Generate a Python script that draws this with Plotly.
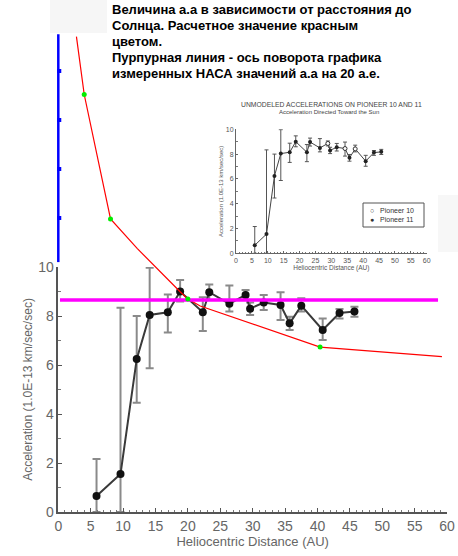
import plotly.graph_objects as go

# ─── Data ────────────────────────────────────────────────────────────────────
# Pioneer anomaly
dist    = [5.9, 9.6, 12.1, 14.1, 16.9, 18.8, 22.3, 23.3, 26.4, 28.9, 29.6, 31.7,
           34.3, 35.7, 37.5, 40.8, 43.4, 45.7]
acc     = [0.65, 1.55, 6.24, 8.04, 8.15, 9.0, 8.15, 8.97, 8.5, 8.86, 8.3, 8.55,
           8.45, 7.7, 8.42, 7.43, 8.12, 8.18]
err_hi  = [1.51, 6.79, 1.76, 1.93, 0.73, 0.47, 0.62, 0.32, 0.75, 0.2, 0.25, 0.31,
           0.52, 0.27, 0.3, 0.47, 0.17, 0.2]
err_lo  = [0.65, 1.55, 1.78, 2.17, 0.82, 0.41, 0.76, 0.32, 0.32, 0.2, 0.26, 0.3,
           0.61, 0.27, 0.24, 0.41, 0.22, 0.21]
p10_idx = [9, 12, 14]   # Pioneer 10 points, rest are Pioneer 11

# calculated value (red) and its knots (green)
calc_x  = [2.8, 4.0, 8.06, 12.2, 18.8, 20.0, 21.9, 40.4, 59.2]
calc_y  = [19.4, 17.04, 11.96, 10.75, 8.99, 8.69, 8.41, 6.73, 6.34]
knot_x  = [4.0, 8.06, 20.0, 40.4]
knot_y  = [17.04, 11.96, 8.69, 6.73]

# purple pivot line at 20 AU
pivot_x = [0.26, 58.6]
pivot_y = [8.65, 8.65]

# blue extension of the y axis
blue_y     = [10.2, 19.5]
blue_ticks = [12, 14, 16, 18]

note_lines = [
    "Величина а.а в зависимости от расстояния до",
    "Солнца. Расчетное значение красным",
    "цветом.",
    "Пурпурная линия - ось поворота графика",
    "измеренных НАСА значений а.а на 20 а.е.",
]
legend_lines = ["○   Pioneer 10", "●   Pioneer 11"]

W, H = 458, 556
FONT = "Liberation Sans, Arial, sans-serif"
GREY = "#666666"


def px(p): return p / W
def py(p): return 1 - p / H


p11_idx = [i for i in range(len(dist)) if i not in p10_idx]

fig = go.Figure()

# ─── Main (enlarged) chart ────────────────────────────────────────────────────
fig.add_trace(go.Scatter(
    x=dist, y=acc, mode="lines+markers",
    line=dict(color="#3a3a3a", width=2),
    marker=dict(color="#111111", size=8),
    error_y=dict(type="data", symmetric=False, array=err_hi, arrayminus=err_lo,
                 color="#8a8a8a", thickness=2, width=4),
    xaxis="x", yaxis="y",
))

# ─── Inset (original) chart ───────────────────────────────────────────────────
fig.add_trace(go.Scatter(
    x=dist, y=acc, mode="lines",
    line=dict(color="#444444", width=1),
    error_y=dict(type="data", symmetric=False, array=err_hi, arrayminus=err_lo,
                 color="#555555", thickness=1, width=2),
    xaxis="x2", yaxis="y2",
))
fig.add_trace(go.Scatter(
    x=[dist[i] for i in p10_idx], y=[acc[i] for i in p10_idx], mode="markers",
    marker=dict(color="white", size=4, line=dict(color="#333", width=1)),
    name="Pioneer 10", xaxis="x2", yaxis="y2",
))
fig.add_trace(go.Scatter(
    x=[dist[i] for i in p11_idx], y=[acc[i] for i in p11_idx], mode="markers",
    marker=dict(color="#222", size=4),
    name="Pioneer 11", xaxis="x2", yaxis="y2",
))

# ─── Overlay drawn in the main chart's units, over the whole page ────────────
fig.add_trace(go.Scatter(
    x=[0, 0], y=blue_y, mode="lines", line=dict(color="#0000ff", width=2.5),
    xaxis="x3", yaxis="y3",
))
fig.add_trace(go.Scatter(
    x=[0.15] * len(blue_ticks), y=blue_ticks, mode="markers",
    marker=dict(color="#0000ff", size=4, symbol="square"),
    xaxis="x3", yaxis="y3",
))
fig.add_trace(go.Scatter(
    x=calc_x, y=calc_y, mode="lines", line=dict(color="#ff0000", width=1.2),
    xaxis="x3", yaxis="y3",
))
fig.add_trace(go.Scatter(
    x=pivot_x, y=pivot_y, mode="lines", line=dict(color="#ff00ff", width=3.5),
    xaxis="x3", yaxis="y3",
))
fig.add_trace(go.Scatter(
    x=knot_x, y=knot_y, mode="markers", marker=dict(color="#00ee00", size=5),
    xaxis="x3", yaxis="y3",
))

# main scale: x 0 -> 58.3px, 6.48 px/AU ; y 0 -> 512px, 24.5 px/unit
x0, sx = 58.3, 6.48
y0, sy = 512, 24.5

main_ax = dict(showline=True, linecolor="#555", linewidth=1.5, mirror=False,
               ticks="inside", ticklen=4, tickcolor="#555", showgrid=False,
               zeroline=False, automargin=False,
               tickfont=dict(size=14, color=GREY, family=FONT))
inset_ax = dict(showline=True, linecolor="#666", linewidth=1, ticks="inside",
                ticklen=2, tickcolor="#666", showgrid=False, zeroline=False,
                automargin=False, tickfont=dict(size=7, color="#555", family=FONT))

# text block, one annotation per line for exact line spacing
note_ann = [
    dict(text=f"<b>{line}</b>", x=px(110), y=py(9 + 16.2 * i),
         xref="paper", yref="paper", xanchor="left", yanchor="middle",
         showarrow=False, font=dict(size=13, color="black", family=FONT))
    for i, line in enumerate(note_lines)
]

fig.update_layout(
    width=W, height=H,
    margin=dict(l=0, r=0, t=0, b=0, autoexpand=False),
    paper_bgcolor="white", plot_bgcolor="rgba(0,0,0,0)",
    font=dict(family=FONT),
    showlegend=False,
    xaxis=dict(**main_ax, domain=[px(x0), px(x0 + 60 * sx)], range=[0, 60],
               dtick=5, minor=dict(dtick=1, ticks="inside", ticklen=2.5, tickcolor="#777"),
               title=dict(text="Heliocentric Distance (AU)", standoff=2,
                          font=dict(size=13, color=GREY, family=FONT)),
               anchor="y"),
    yaxis=dict(**main_ax, domain=[py(y0), py(y0 - 10 * sy)], range=[0, 10],
               dtick=2, minor=dict(dtick=1, ticks="inside", ticklen=2.5, tickcolor="#777"),
               title=dict(text="Acceleration (1.0E-13 km/sec/sec)", standoff=3,
                          font=dict(size=12, color=GREY, family=FONT)),
               anchor="x"),
    xaxis2=dict(**inset_ax, domain=[px(236), px(426.7)], range=[0, 60], dtick=5,
                minor=dict(dtick=1, ticks="inside", ticklen=1.5, tickcolor="#777"),
                title=dict(text="Heliocentric Distance (AU)", standoff=0,
                           font=dict(size=6.5, color="#555", family=FONT)),
                anchor="y2"),
    yaxis2=dict(**inset_ax, domain=[py(253.3), py(129.3)], range=[0, 10], dtick=2,
                minor=dict(dtick=1, ticks="inside", ticklen=1.5, tickcolor="#777"),
                title=dict(text="Acceleration (1.0E-13 km/sec/sec)", standoff=1,
                           font=dict(size=6, color="#555", family=FONT)),
                anchor="x2"),
    xaxis3=dict(domain=[0, 1], range=[-x0 / sx, (W - x0) / sx], visible=False,
                anchor="y3"),
    yaxis3=dict(domain=[0, 1], range=[(y0 - H) / sy, y0 / sy], visible=False,
                anchor="x3"),
    annotations=note_ann + [
        dict(text="UNMODELED ACCELERATIONS ON PIONEER 10 AND 11",
             x=px(331), y=py(105), xref="paper", yref="paper",
             xanchor="center", yanchor="middle",
             showarrow=False, font=dict(size=6.8, color="#444", family=FONT)),
        dict(text="Acceleration Directed Toward the Sun",
             x=px(329), y=py(112.5), xref="paper", yref="paper",
             xanchor="center", yanchor="middle",
             showarrow=False, font=dict(size=6, color="#444", family=FONT)),
        # inset legend
        dict(text="<br>".join(legend_lines),
             x=px(368), y=py(215), xref="paper", yref="paper",
             xanchor="left", yanchor="middle", align="left", showarrow=False,
             font=dict(size=7, color="#333", family=FONT)),
    ],
    shapes=[
        dict(type="rect", xref="paper", yref="paper", x0=px(50), x1=px(107),
             y0=py(33), y1=py(0), fillcolor="#f6f6f6", line_width=0, layer="below"),
        dict(type="rect", xref="paper", yref="paper", x0=px(438), x1=px(458),
             y0=py(252), y1=py(195), fillcolor="#f7f7f7", line_width=0, layer="below"),
        dict(type="rect", xref="paper", yref="paper", x0=px(363), x1=px(424),
             y0=py(227), y1=py(203), fillcolor="rgba(0,0,0,0)",
             line=dict(color="#555", width=1)),
    ],
)

fig.write_html("out.html", config=dict(displayModeBar=False),
               post_script="document.body.style.margin='0';"
                           "document.body.style.overflow='hidden';")
